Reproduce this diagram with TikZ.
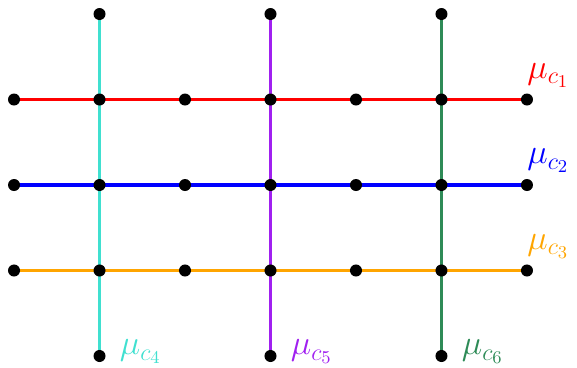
\documentclass[tikz,border=0pt]{standalone}
\usepackage{amsmath,amssymb}
\usepackage{xcolor}
\usetikzlibrary{positioning,calc}
\definecolor{cone}{RGB}{255,0,0}
\definecolor{ctwo}{RGB}{0,0,255}
\definecolor{cthree}{RGB}{255,165,0}
\definecolor{cfour}{RGB}{64,224,208}
\definecolor{cfive}{RGB}{160,32,240}
\definecolor{csix}{RGB}{46,139,87}
\tikzset{
  gridline/.style={line width=1.6pt},
  gpoint/.style={circle,fill=black,inner sep=0pt,minimum size=6pt},
  mulabel/.style={anchor=base west,inner sep=0pt,font=\fontsize{18.5}{22}\selectfont}
}

\begin{document}
\begin{tikzpicture}[x=1.5cm,y=1.5cm]
  \useasboundingbox (-0.164,-0.129) rectangle (6.585,4.164);

  % grid points
  \foreach \i in {0,...,6}
    \foreach \j in {1,2,3}
      \coordinate (p\i\j) at (\i,\j);
  \foreach \i in {1,3,5} {
    \coordinate (p\i0) at (\i,0);
    \coordinate (p\i4) at (\i,4);
  }

  % vertical clusters
  \draw[gridline,cfour] (p10) -- (p14);
  \draw[gridline,cfive] (p30) -- (p34);
  \draw[gridline,csix] (p50) -- (p54);

  % horizontal clusters
  \draw[gridline,cone] (p03) -- (p63);
  \draw[gridline,ctwo] (p02) -- (p62);
  \draw[gridline,cthree] (p01) -- (p61);

  % points
  \foreach \i in {0,...,6}
    \foreach \j in {1,2,3}
      \node[gpoint] (n\i\j) at (p\i\j) {};
  \foreach \i in {1,3,5} {
    \node[gpoint] (n\i0) at (p\i0) {};
    \node[gpoint] (n\i4) at (p\i4) {};
  }

  % labels
  \node[mulabel,text=cone] (l1) at ($(n63)+(0pt,10.5pt)$) {$\mu_{c_1}$};
  \node[mulabel,text=ctwo] (l2) at ($(n62)+(0pt,10.5pt)$) {$\mu_{c_2}$};
  \node[mulabel,text=cthree] (l3) at ($(n61)+(0pt,10.5pt)$) {$\mu_{c_3}$};
  \node[mulabel,text=cfour] (l4) at ($(n10)+(10pt,0.5pt)$) {$\mu_{c_4}$};
  \node[mulabel,text=cfive] (l5) at ($(n30)+(10pt,0.5pt)$) {$\mu_{c_5}$};
  \node[mulabel,text=csix] (l6) at ($(n50)+(10pt,0.5pt)$) {$\mu_{c_6}$};
\end{tikzpicture}
\end{document}
